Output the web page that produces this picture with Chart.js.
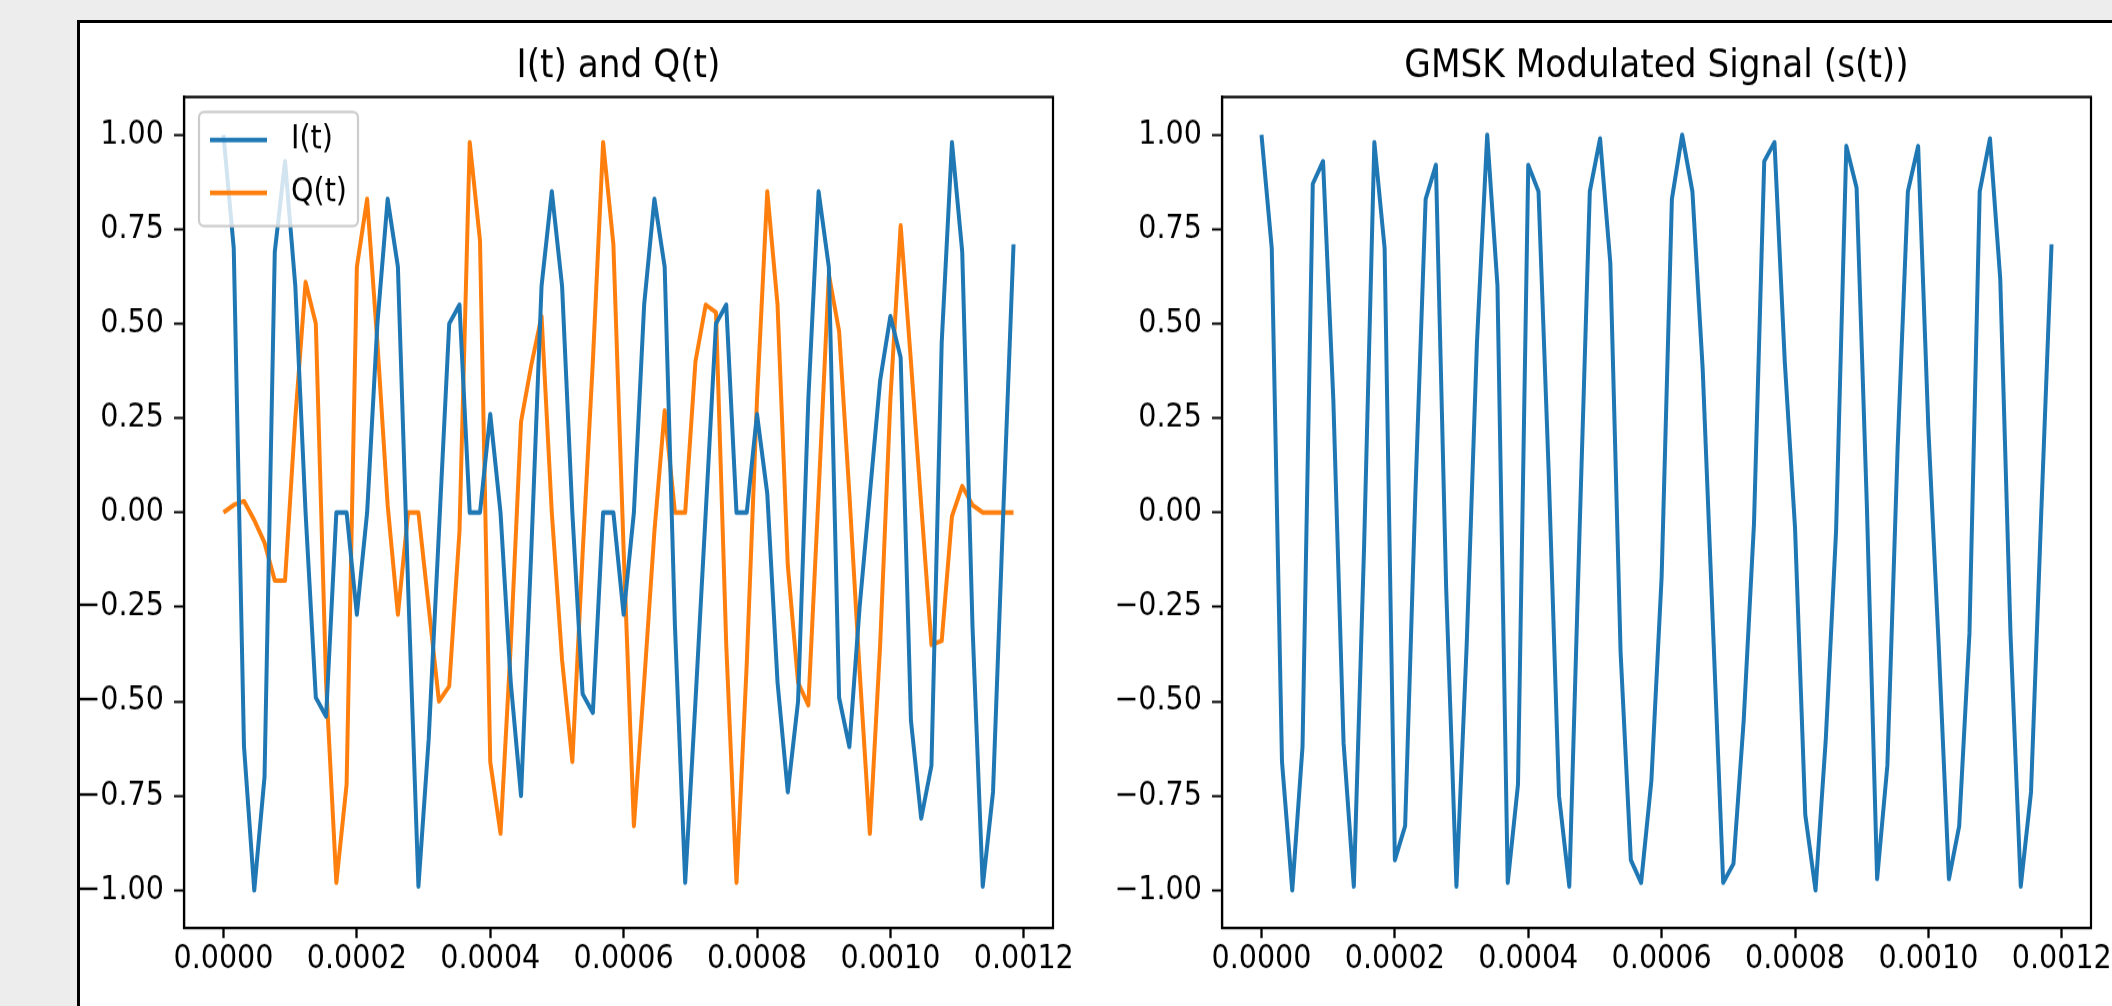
<!DOCTYPE html>
<html>
<head>
<meta charset="utf-8">
<script src="https://cdn.jsdelivr.net/npm/chart.js@4.4.1/dist/chart.umd.min.js"></script>
<style>
  html, body { margin: 0; padding: 0; }
  body { width: 2112px; height: 1006px; overflow: hidden; position: relative; background: #ededed; }
  #panel { position: absolute; left: 77px; top: 20px; width: 2200px; height: 1100px; background: #fff; border: 3px solid #000; }
  canvas { position: absolute; top: 0; }
</style>
</head>
<body>
<div id="panel"></div>
<!-- the picture is a little stretched vertically, so the canvases are drawn short and scaled up by css -->
<canvas id="iq" width="1120" height="875" style="left:0px;width:1120px;height:1006px"></canvas>
<canvas id="gmsk" width="1040" height="875" style="left:1100px;width:1040px;height:1006px"></canvas>
<script>
// sample times (s)
const timeSec = [
  0, 0.00001538, 0.00003077, 0.00004615, 0.00006154, 0.00007692, 0.00009231, 0.00010769, 0.00012308, 0.00013846, 0.00015385, 0.00016923, 0.00018462,
  0.0002, 0.00021538, 0.00023077, 0.00024615, 0.00026154, 0.00027692, 0.00029231, 0.00030769, 0.00032308, 0.00033846, 0.00035385, 0.00036923, 0.00038462,
  0.0004, 0.00041538, 0.00043077, 0.00044615, 0.00046154, 0.00047692, 0.00049231, 0.00050769, 0.00052308, 0.00053846, 0.00055385, 0.00056923, 0.00058462,
  0.0006, 0.00061538, 0.00063077, 0.00064615, 0.00066154, 0.00067692, 0.00069231, 0.00070769, 0.00072308, 0.00073846, 0.00075385, 0.00076923, 0.00078462,
  0.0008, 0.00081538, 0.00083077, 0.00084615, 0.00086154, 0.00087692, 0.00089231, 0.00090769, 0.00092308, 0.00093846, 0.00095385, 0.00096923, 0.00098462,
  0.001, 0.00101538, 0.00103077, 0.00104615, 0.00106154, 0.00107692, 0.00109231, 0.00110769, 0.00112308, 0.00113846, 0.00115385, 0.00116923, 0.00118462
];

const iSignal = [
  1.00, 0.70, -0.62, -1.00, -0.70, 0.69, 0.93, 0.60, 0.00, -0.49,
  -0.54, 0.00, 0.00, -0.27, 0.00, 0.50, 0.83, 0.65, -0.20, -0.99,
  -0.60, -0.05, 0.50, 0.55, 0.00, 0.00, 0.26, 0.00, -0.45, -0.75,
  -0.10, 0.60, 0.85, 0.60, 0.00, -0.48, -0.53, 0.00, 0.00, -0.27,
  0.00, 0.55, 0.83, 0.65, -0.30, -0.98, -0.50, 0.00, 0.50, 0.55,
  0.00, 0.00, 0.26, 0.05, -0.45, -0.74, -0.50, 0.30, 0.85, 0.65,
  -0.49, -0.62, -0.25, 0.05, 0.35, 0.52, 0.41, -0.55, -0.81, -0.67,
  0.45, 0.98, 0.69, -0.30, -0.99, -0.74, 0.00, 0.71
];

const qSignal = [
  0.00, 0.02, 0.03, -0.02, -0.08, -0.18, -0.18, 0.25, 0.61, 0.50,
  -0.45, -0.98, -0.72, 0.65, 0.83, 0.45, 0.02, -0.27, 0.00, 0.00,
  -0.25, -0.50, -0.46, -0.05, 0.98, 0.72, -0.66, -0.85, -0.35, 0.24,
  0.39, 0.52, 0.00, -0.39, -0.66, -0.11, 0.40, 0.98, 0.71, -0.10,
  -0.83, -0.45, -0.05, 0.27, 0.00, 0.00, 0.40, 0.55, 0.53, -0.35,
  -0.98, -0.40, 0.30, 0.85, 0.55, -0.14, -0.45, -0.51, 0.05, 0.63,
  0.48, 0.05, -0.42, -0.85, -0.35, 0.30, 0.76, 0.40, 0.02, -0.35,
  -0.34, -0.01, 0.07, 0.02, 0.00, 0.00, 0.00, 0.00
];

const gmskSignal = [
  1.00, 0.70, -0.66, -1.00, -0.62, 0.87, 0.93, 0.30, -0.61, -0.99,
  -0.09, 0.98, 0.70, -0.92, -0.83, 0.05, 0.83, 0.92, -0.20, -0.99,
  -0.35, 0.45, 1.00, 0.60, -0.98, -0.72, 0.92, 0.85, 0.10, -0.75,
  -0.99, -0.05, 0.85, 0.99, 0.66, -0.37, -0.92, -0.98, -0.71, -0.17,
  0.83, 1.00, 0.85, 0.38, -0.30, -0.98, -0.93, -0.55, -0.03, 0.93,
  0.98, 0.40, -0.04, -0.80, -1.00, -0.60, -0.05, 0.97, 0.86, 0.02,
  -0.97, -0.67, 0.17, 0.85, 0.97, 0.22, -0.35, -0.97, -0.83, -0.32,
  0.85, 0.99, 0.62, -0.32, -0.99, -0.74, 0.00, 0.71
];

const xTicks = [0, 0.0002, 0.0004, 0.0006, 0.0008, 0.0010, 0.0012];
const yTicks = [-1.00, -0.75, -0.50, -0.25, 0.00, 0.25, 0.50, 0.75, 1.00];

const X_MIN = -0.0000592, X_MAX = 0.0012438;
const Y_MIN = -1.1, Y_MAX = 1.1;
const BLUE = '#1f77b4', ORANGE = '#ff7f0e';
const H = 875;
const K = 1006 / H;            // vertical stretch of the page
const LINE_W = 4.0;
const TICK_FONT = { family: '"DejaVu Sans"', size: 28.6 };

Chart.defaults.font.family = '"DejaVu Sans"';
Chart.defaults.color = '#000';

// full box round the axes + title centred over it
const frameAndTitle = {
  id: 'frameAndTitle',
  afterDraw(chart, args, opts) {
    const { ctx, chartArea: a } = chart;
    ctx.save();
    ctx.strokeStyle = '#000';
    ctx.lineWidth = 2.2;
    ctx.strokeRect(a.left, a.top, a.right - a.left, a.bottom - a.top);
    ctx.fillStyle = '#000';
    ctx.font = '34.3px "DejaVu Sans"';
    ctx.textAlign = 'center';
    ctx.textBaseline = 'alphabetic';
    ctx.fillText(opts.text || '', (a.left + a.right) / 2, a.top - 20 / K);
    ctx.restore();
  }
};

// matplotlib-like legend box in the upper left of the axes
const boxLegend = {
  id: 'boxLegend',
  afterDatasetsDraw(chart, args, opts) {
    if (!opts.show) return;
    const { ctx, chartArea: a } = chart;
    const x0 = a.left + 15, y0 = a.top + 15 / K, w = 159, h = 114 / K;
    ctx.save();
    ctx.beginPath();
    ctx.roundRect(x0, y0, w, h, 5);
    ctx.fillStyle = 'rgba(255,255,255,0.8)';
    ctx.fill();
    ctx.strokeStyle = '#cccccc';
    ctx.lineWidth = 2.2;
    ctx.stroke();
    ctx.font = '28.6px "DejaVu Sans"';
    ctx.textBaseline = 'middle';
    ctx.textAlign = 'left';
    chart.data.datasets.forEach((ds, k) => {
      const y = y0 + (28 + k * 53) / K;
      ctx.beginPath();
      ctx.moveTo(x0 + 11, y);
      ctx.lineTo(x0 + 68, y);
      ctx.strokeStyle = ds.borderColor;
      ctx.lineWidth = LINE_W;
      ctx.stroke();
      ctx.fillStyle = '#000';
      ctx.fillText(ds.label, x0 + 92, y);
    });
    ctx.restore();
  }
};

function xAxis() {
  return {
    type: 'linear',
    min: X_MIN,
    max: X_MAX,
    afterBuildTicks: s => { s.ticks = xTicks.map(v => ({ value: v })); },
    afterFit: s => { s.height = 50; },
    grid: { drawOnChartArea: false, tickLength: 10 / K, tickWidth: 2.3, tickColor: '#000' },
    border: { color: '#000', width: 2.2 / K },
    ticks: { color: '#000', padding: 2, maxRotation: 0, minRotation: 0, autoSkip: false, font: TICK_FONT,
      callback: v => v.toFixed(4) }
  };
}

function yAxis(width) {
  return {
    min: Y_MIN,
    max: Y_MAX,
    afterBuildTicks: s => { s.ticks = yTicks.map(v => ({ value: v })); },
    afterFit: s => { s.width = width; },
    grid: { drawOnChartArea: false, tickLength: 10, tickWidth: 2.3 / K, tickColor: '#000' },
    border: { color: '#000', width: 2.2 },
    ticks: { color: '#000', padding: 10, font: TICK_FONT,
      callback: v => (v < 0 ? '\u2212' : '') + Math.abs(v).toFixed(2) }
  };
}

function lineSet(label, data, color) {
  return {
    label: label,
    data: data,
    borderColor: color,
    backgroundColor: color,
    borderWidth: LINE_W,
    pointRadius: 0,
    tension: 0,
    fill: false,
    borderJoinStyle: 'round'
  };
}

const pad = { left: 0, top: 97 / K, bottom: H - 928 / K - 50 };

new Chart(document.getElementById('iq'), {
  type: 'line',
  data: {
    labels: timeSec,
    datasets: [lineSet('I(t)', iSignal, BLUE), lineSet('Q(t)', qSignal, ORANGE)]
  },
  options: {
    responsive: false,
    animation: false,
    devicePixelRatio: 1,
    events: [],
    layout: { padding: Object.assign({ right: 1120 - 1053 }, pad) },
    plugins: {
      legend: { display: false },
      tooltip: { enabled: false },
      frameAndTitle: { text: 'I(t) and Q(t)' },
      boxLegend: { show: true }
    },
    scales: { x: xAxis(), y: yAxis(184) }
  },
  plugins: [frameAndTitle, boxLegend]
});

new Chart(document.getElementById('gmsk'), {
  type: 'line',
  data: {
    labels: timeSec,
    datasets: [lineSet('s(t)', gmskSignal, BLUE)]
  },
  options: {
    responsive: false,
    animation: false,
    devicePixelRatio: 1,
    events: [],
    layout: { padding: Object.assign({ right: 1040 - 991 }, pad) },
    plugins: {
      legend: { display: false },
      tooltip: { enabled: false },
      frameAndTitle: { text: 'GMSK Modulated Signal (s(t))' },
      boxLegend: { show: false }
    },
    scales: { x: xAxis(), y: yAxis(122) }
  },
  plugins: [frameAndTitle, boxLegend]
});
</script>
</body>
</html>
